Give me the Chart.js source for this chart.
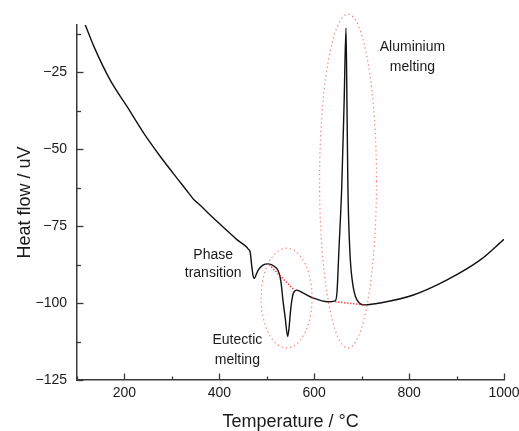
<!DOCTYPE html>
<html>
<head>
<meta charset="utf-8">
<script src="https://cdn.jsdelivr.net/npm/chart.js@4"></script>
<style>
  html, body { margin: 0; padding: 0; background: #fff; }
  #wrap { width: 519px; height: 431px; }
</style>
</head>
<body>
<div id="wrap"><canvas id="dsc"></canvas></div>
<script>
// DSC trace
const temps = [117, 136, 170, 206, 241, 276, 311, 330, 340, 346, 355, 388, 423, 437, 458, 461, 465, 468, 471, 474, 478, 482, 492, 503, 517, 524, 528, 531, 534, 539, 544, 547, 549, 552, 556, 563, 577, 598, 629, 644, 648, 652, 658, 663, 667, 669, 671, 675, 680, 690, 707, 739, 809, 880, 950, 1000];
const heatFlow = [-9.5, -16.8, -27.6, -36.3, -44.9, -52.5, -59.5, -63.2, -65.2, -66.4, -67.6, -72.5, -77.4, -79.4, -81.9, -82.5, -83.5, -87.5, -91.0, -92.0, -90.6, -89.3, -87.7, -87.3, -88.2, -89.5, -91.5, -94.5, -99.0, -105.0, -110.9, -108.0, -104.4, -100.0, -96.8, -95.8, -96.8, -98.4, -99.6, -99.3, -96.5, -83.0, -62.3, -35.0, -10.7, -35.0, -62.3, -82.8, -92.5, -99.0, -100.6, -100.0, -97.4, -92.5, -86.0, -79.3];

// red dotted baselines under the two melting peaks
const eutBaseT = [505, 558];
const eutBaseHF = [-87.5, -95.8];
const alBaseT = [644, 707];
const alBaseHF = [-99.6, -100.6];

// axis ticks
const xTicks = [100, 200, 300, 400, 500, 600, 700, 800, 900, 1000];
const xLabelled = [200, 400, 600, 800, 1000];
const yTicks = [-125, -112.5, -100, -87.5, -75, -62.5, -50, -37.5, -25, -12.5];
const yLabelled = [-125, -100, -75, -50, -25];

const FONT = "'Liberation Sans', Arial, sans-serif";
const toXY = (xs, ys) => xs.map((x, i) => ({ x: x, y: ys[i] }));

// ellipses and notes, in data units
const ellipses = [
  { t: 541.8, hf: -98.4, rt: 53.7, rhf: 16.2 },
  { t: 671.3, hf: -60.4, rt: 60, rhf: 54.2 }
];
const notes = [
  { t: 387, hf: -84.4, text: "Phase" },
  { t: 387, hf: -90.3, text: "transition" },
  { t: 438, hf: -112.2, text: "Eutectic" },
  { t: 438, hf: -118.4, text: "melting" },
  { t: 807, hf: -16.9, text: "Aluminium" },
  { t: 807, hf: -23.4, text: "melting" }
];

const extras = {
  id: "extras",
  afterDatasetsDraw(chart) {
    const ctx = chart.ctx;
    const xs = chart.scales.x, ys = chart.scales.y;

    // dotted ellipses
    ctx.save();
    ctx.strokeStyle = "rgba(255, 90, 90, 0.75)";
    ctx.lineWidth = 1.3;
    ctx.setLineDash([1.3, 3]);
    ellipses.forEach((e) => {
      const cx = xs.getPixelForValue(e.t), cy = ys.getPixelForValue(e.hf);
      const rx = xs.getPixelForValue(e.t + e.rt) - cx;
      const ry = cy - ys.getPixelForValue(e.hf + e.rhf);
      ctx.beginPath();
      ctx.ellipse(cx, cy, rx, ry, 0, 0, Math.PI * 2);
      ctx.stroke();
    });
    ctx.restore();

    // inward ticks
    ctx.save();
    ctx.strokeStyle = "#3a3a3a";
    ctx.lineWidth = 1.3;
    const bottom = chart.chartArea.bottom, left = chart.chartArea.left;
    xTicks.forEach((v) => {
      const px = Math.round(xs.getPixelForValue(v)) + 0.5;
      const len = xLabelled.includes(v) ? 6.5 : 3.5;
      ctx.beginPath();
      ctx.moveTo(px, bottom);
      ctx.lineTo(px, bottom - len);
      ctx.stroke();
    });
    yTicks.forEach((v) => {
      const py = Math.round(ys.getPixelForValue(v)) + 0.5;
      const len = yLabelled.includes(v) ? 6.5 : 4;
      ctx.beginPath();
      ctx.moveTo(left, py);
      ctx.lineTo(left + len, py);
      ctx.stroke();
    });
    ctx.restore();

    // notes
    ctx.save();
    ctx.fillStyle = "#1a1a1a";
    ctx.font = "14px " + FONT;
    ctx.textAlign = "center";
    ctx.textBaseline = "middle";
    notes.forEach((n) => {
      ctx.fillText(n.text, xs.getPixelForValue(n.t), ys.getPixelForValue(n.hf));
    });
    ctx.restore();
  }
};

const redDots = {
  borderColor: "rgba(240, 40, 40, 0.85)",
  borderWidth: 1.6,
  borderDash: [1.4, 1.6],
  pointRadius: 0,
  fill: false
};

const config = {
  type: "line",
  data: {
    datasets: [
      Object.assign({ label: "eutectic baseline", data: toXY(eutBaseT, eutBaseHF) }, redDots),
      Object.assign({ label: "aluminium baseline", data: toXY(alBaseT, alBaseHF) }, redDots),
      {
        label: "Heat flow",
        data: toXY(temps, heatFlow),
        borderColor: "#111",
        borderWidth: 1.4,
        pointRadius: 0,
        cubicInterpolationMode: "monotone",
        fill: false
      }
    ]
  },
  options: {
    responsive: true,
    maintainAspectRatio: false,
    animation: false,
    events: [],
    layout: { padding: { top: 25, right: 15, left: 0, bottom: 0 } },
    plugins: {
      legend: { display: false },
      tooltip: { enabled: false }
    },
    scales: {
      x: {
        type: "linear",
        min: 100,
        max: 1000,
        grid: { display: false, drawTicks: false },
        border: { display: true, color: "#3a3a3a", width: 1.5 },
        ticks: {
          stepSize: 100,
          autoSkip: false,
          maxRotation: 0,
          padding: 5,
          color: "#1a1a1a",
          font: { family: FONT, size: 14 },
          callback: (v) => (xLabelled.includes(v) ? String(v) : "")
        },
        title: {
          display: true,
          text: "Temperature / °C",
          color: "#1a1a1a",
          font: { family: FONT, size: 18 },
          padding: { top: 0, bottom: -1.5 }
        },
        afterFit: (s) => { s.height = 51; s.paddingRight = 0; s.paddingLeft = 0; }
      },
      y: {
        min: -125,
        max: -9.7,
        grid: { display: false, drawTicks: false },
        border: { display: true, color: "#3a3a3a", width: 1.5 },
        ticks: {
          stepSize: 12.5,
          autoSkip: false,
          padding: 10,
          color: "#1a1a1a",
          font: { family: FONT, size: 14 },
          callback: (v) => (yLabelled.includes(v) ? "\u2212" + Math.abs(v) : "")
        },
        title: {
          display: true,
          text: "Heat flow / uV",
          color: "#1a1a1a",
          font: { family: FONT, size: 18 },
          padding: { top: 14, bottom: 0 }
        },
        afterFit: (s) => { s.width = 77; s.paddingTop = 0; s.paddingBottom = 0; }
      }
    }
  },
  plugins: [extras]
};

const myChart = new Chart(document.getElementById("dsc"), config);
</script>
</body>
</html>
